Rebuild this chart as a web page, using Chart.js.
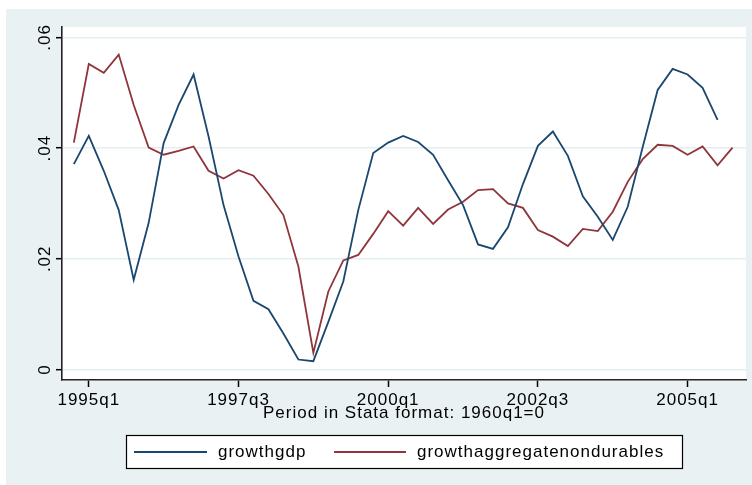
<!DOCTYPE html>
<html>
<head>
<meta charset="utf-8">
<script src="https://cdn.jsdelivr.net/npm/chart.js@4.4.1/dist/chart.umd.min.js"></script>
<style>
  html, body { margin: 0; padding: 0; background: #fff; }
  #wrap { width: 752px; height: 485px; }
</style>
</head>
<body>
<div id="wrap"><canvas id="chart" width="752" height="485"></canvas></div>
<script>
// quarters 1994q4 .. 2005q4
const quarters = [
  '1994q4',
  '1995q1','1995q2','1995q3','1995q4',
  '1996q1','1996q2','1996q3','1996q4',
  '1997q1','1997q2','1997q3','1997q4',
  '1998q1','1998q2','1998q3','1998q4',
  '1999q1','1999q2','1999q3','1999q4',
  '2000q1','2000q2','2000q3','2000q4',
  '2001q1','2001q2','2001q3','2001q4',
  '2002q1','2002q2','2002q3','2002q4',
  '2003q1','2003q2','2003q3','2003q4',
  '2004q1','2004q2','2004q3','2004q4',
  '2005q1','2005q2','2005q3','2005q4'
];

// growthgdp stops at 2005q3
const growthgdp = [
  0.0371,
  0.0422, 0.0359, 0.0288, 0.0162,
  0.0265, 0.0409, 0.0478, 0.0533,
  0.0421, 0.0297, 0.0204, 0.0124,
  0.0109, 0.0065, 0.0018, 0.0015,
  0.0086, 0.0159, 0.0288, 0.0391,
  0.0410, 0.0422, 0.0411, 0.0388,
  0.0342, 0.0297, 0.0226, 0.0218,
  0.0257, 0.0335, 0.0404, 0.0430,
  0.0386, 0.0313, 0.0276, 0.0234,
  0.0294, 0.0402, 0.0505, 0.0543,
  0.0533, 0.0509, 0.0451
];

const growthnondur = [
  0.0410,
  0.0552, 0.0536, 0.0569, 0.0478,
  0.0401, 0.0388, 0.0395, 0.0403,
  0.0359, 0.0345, 0.0360, 0.0350,
  0.0317, 0.0279, 0.0186, 0.0030,
  0.0141, 0.0197, 0.0207, 0.0245,
  0.0286, 0.0260, 0.0292, 0.0263,
  0.0289, 0.0303, 0.0324, 0.0326,
  0.0300, 0.0292, 0.0252, 0.0240,
  0.0223, 0.0254, 0.0250, 0.0285,
  0.0339, 0.0380, 0.0406, 0.0404,
  0.0388, 0.0403, 0.0369, 0.0401
];

const xTickLabels = ['1995q1', '1997q3', '2000q1', '2002q3', '2005q1'];
const yTicks = [0, 0.02, 0.04, 0.06];
const yTickLabels = ['0', '.02', '.04', '.06'];

const BG = '#eaf1f3';
const GRID = '#e4edf0';
const BLUE = '#1a476f';
const RED = '#90353b';
const FONT = '"Liberation Sans", Arial, sans-serif';

// Stata quarterly date: 1960q1 = 0
function qnum(s) {
  const y = parseInt(s.slice(0, 4));
  const q = parseInt(s.slice(5));
  return (y - 1960) * 4 + q - 1;
}

const xTicks = xTickLabels.map(qnum);

function toPoints(vals) {
  return vals.map((v, i) => ({ x: qnum(quarters[i]), y: v }));
}

const stataFrame = {
  id: 'stataFrame',
  beforeDraw(chart) {
    const ctx = chart.ctx, a = chart.chartArea;
    ctx.save();
    ctx.fillStyle = '#fff';
    ctx.fillRect(0, 0, chart.width, chart.height);
    ctx.fillStyle = BG;
    ctx.fillRect(6, 9, chart.width - 6, chart.height - 9);
    ctx.fillStyle = '#fff';
    ctx.fillRect(a.left, a.top, a.right - a.left, a.bottom - a.top);
    ctx.restore();
    ctx.letterSpacing = '1px';
  },
  afterDraw(chart) {
    const ctx = chart.ctx, a = chart.chartArea;
    const ys = chart.scales.y;
    ctx.save();
    ctx.fillStyle = '#000';
    ctx.font = '17px ' + FONT;

    // rotated y tick labels
    yTicks.forEach((v, i) => {
      const py = ys.getPixelForValue(v);
      ctx.save();
      ctx.translate(49.5, py);
      ctx.rotate(-Math.PI / 2);
      ctx.textAlign = 'center';
      ctx.textBaseline = 'alphabetic';
      ctx.fillText(yTickLabels[i], 0, 0);
      ctx.restore();
    });

    // x axis title
    ctx.textAlign = 'center';
    ctx.textBaseline = 'middle';
    ctx.fillText('Period in Stata format: 1960q1=0', (a.left + a.right) / 2, 413);

    // legend box
    ctx.fillStyle = '#fff';
    ctx.fillRect(126, 435, 556, 34);
    ctx.strokeStyle = '#000';
    ctx.lineWidth = 1.2;
    ctx.strokeRect(126.5, 435.5, 556, 33);

    const items = [
      { x1: 134, x2: 207, tx: 218 },
      { x1: 334, x2: 406, tx: 417 }
    ];
    chart.data.datasets.forEach((ds, i) => {
      const it = items[i];
      ctx.strokeStyle = ds.borderColor;
      ctx.lineWidth = 2;
      ctx.beginPath();
      ctx.moveTo(it.x1, 452);
      ctx.lineTo(it.x2, 452);
      ctx.stroke();
      ctx.fillStyle = '#000';
      ctx.textAlign = 'left';
      ctx.textBaseline = 'middle';
      ctx.fillText(ds.label, it.tx, 452.5);
    });
    ctx.restore();
  }
};

new Chart(document.getElementById('chart'), {
  type: 'line',
  data: {
    datasets: [
      {
        label: 'growthgdp',
        data: toPoints(growthgdp),
        borderColor: BLUE,
        borderWidth: 1.8,
        pointRadius: 0,
        tension: 0,
        fill: false
      },
      {
        label: 'growthaggregatenondurables',
        data: toPoints(growthnondur),
        borderColor: RED,
        borderWidth: 1.8,
        pointRadius: 0,
        tension: 0,
        fill: false
      }
    ]
  },
  options: {
    responsive: false,
    animation: false,
    events: [],
    layout: { padding: { top: 27, right: 6, left: 0, bottom: 0 } },
    plugins: {
      legend: { display: false },
      tooltip: { enabled: false }
    },
    scales: {
      x: {
        type: 'linear',
        min: 138.21,
        max: 183.9,
        afterBuildTicks: s => { s.ticks = xTicks.map(v => ({ value: v })); },
        afterFit: s => { s.height = 105; },
        ticks: {
          autoSkip: false,
          maxRotation: 0,
          padding: 3,
          color: '#000',
          font: { family: FONT, size: 17 },
          callback: v => xTickLabels[xTicks.indexOf(v)]
        },
        grid: {
          drawOnChartArea: false,
          drawTicks: true,
          tickLength: 7,
          tickColor: '#000',
          tickWidth: 1.5
        },
        border: { color: '#222', width: 1.6 }
      },
      y: {
        min: -0.0019,
        max: 0.06188,
        afterBuildTicks: s => { s.ticks = yTicks.map(v => ({ value: v })); },
        afterFit: s => { s.width = 62; },
        ticks: { display: false },
        grid: {
          color: GRID,
          lineWidth: 1.4,
          drawTicks: true,
          tickLength: 6,
          tickColor: '#000',
          tickWidth: 1.5
        },
        border: { color: '#222', width: 1.6 }
      }
    }
  },
  plugins: [stataFrame]
});
</script>
</body>
</html>
